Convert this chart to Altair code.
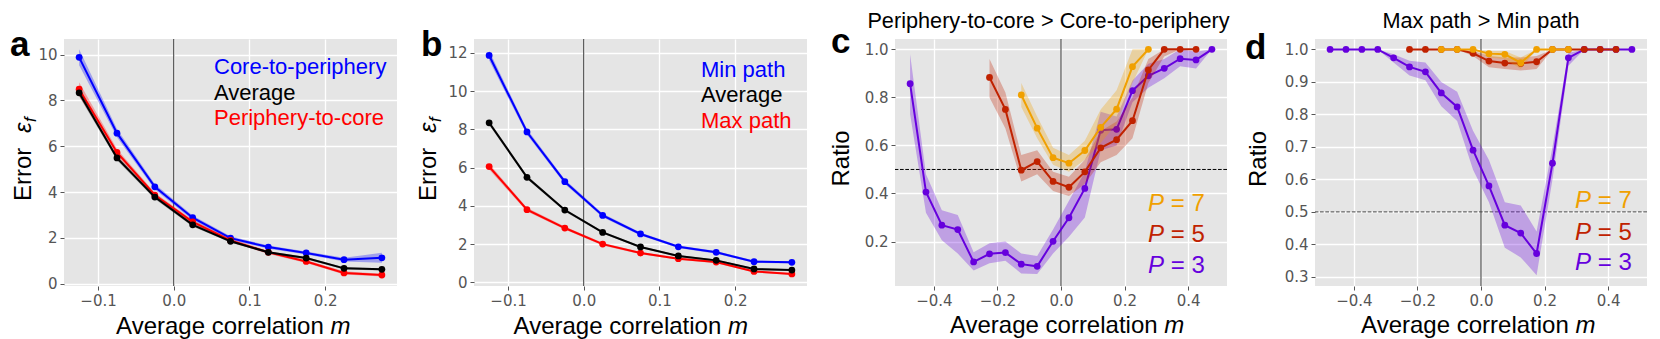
import altair as alt
import pandas as pd

# ---------------- data ----------------
M9 = [-0.125, -0.075, -0.025, 0.025, 0.075, 0.125, 0.175, 0.225, 0.275]
M14 = [-0.225, -0.175, -0.125, -0.075, -0.025, 0.025, 0.075, 0.125, 0.175,
       0.225, 0.275, 0.325, 0.375, 0.425]
M20 = [-0.475, -0.425, -0.375, -0.325, -0.275, -0.225, -0.175, -0.125, -0.075,
       -0.025, 0.025, 0.075, 0.125, 0.175, 0.225, 0.275, 0.325, 0.375, 0.425, 0.475]

# panel a
a_core = [9.88, 6.57, 4.23, 2.88, 1.99, 1.60, 1.34, 1.05, 1.13]
a_core_err = [0.35, 0.18, 0.12, 0.10, 0.08, 0.07, 0.07, 0.08, 0.22]
a_avg = [8.33, 5.49, 3.78, 2.57, 1.85, 1.37, 1.12, 0.67, 0.63]
a_avg_err = [0.15, 0.10, 0.08, 0.07, 0.05, 0.05, 0.05, 0.05, 0.05]
a_peri = [8.49, 5.73, 3.87, 2.70, 1.89, 1.37, 0.97, 0.47, 0.38]
a_peri_err = [0.30, 0.15, 0.10, 0.08, 0.07, 0.07, 0.07, 0.07, 0.06]

# panel b
b_min = [11.86, 7.86, 5.26, 3.50, 2.53, 1.86, 1.57, 1.08, 1.05]
b_min_err = [0.25, 0.15, 0.12, 0.10, 0.08, 0.07, 0.07, 0.06, 0.06]
b_avg = [8.34, 5.49, 3.78, 2.61, 1.85, 1.38, 1.15, 0.70, 0.64]
b_avg_err = [0.12, 0.09, 0.07, 0.06, 0.05, 0.05, 0.05, 0.05, 0.05]
b_max = [6.05, 3.80, 2.84, 2.00, 1.53, 1.24, 1.06, 0.57, 0.44]
b_max_err = [0.15, 0.10, 0.08, 0.07, 0.06, 0.06, 0.06, 0.05, 0.05]

# panel c  (Periphery-to-core > Core-to-periphery)
c_p3 = [0.857, 0.406, 0.268, 0.250, 0.115, 0.149, 0.154, 0.106, 0.097, 0.201,
        0.299, 0.421, 0.663, 0.667, 0.828, 0.890, 0.921, 0.961, 0.956, 1.000]
c_p3_lo = [0.73, 0.32, 0.205, 0.15, 0.08, 0.11, 0.12, 0.067, 0.065, 0.15,
           0.22, 0.30, 0.58, 0.60, 0.78, 0.84, 0.88, 0.93, 0.92, 1.00]
c_p3_hi = [0.98, 0.48, 0.33, 0.31, 0.155, 0.193, 0.20, 0.15, 0.14, 0.25,
           0.37, 0.49, 0.74, 0.72, 0.87, 0.94, 0.96, 1.00, 0.99, 1.00]
c_p5 = [0.883, 0.750, 0.497, 0.533, 0.450, 0.426, 0.490, 0.590, 0.624, 0.703,
        0.914, 1.000, 1.000, 1.000]
c_p5_lo = [0.80, 0.67, 0.45, 0.48, 0.41, 0.39, 0.44, 0.53, 0.56, 0.63,
           0.86, 0.97, 1.00, 1.00]
c_p5_hi = [0.96, 0.82, 0.56, 0.58, 0.49, 0.47, 0.54, 0.66, 0.70, 0.80,
           0.96, 1.00, 1.00, 1.00]
c_p7 = [0.810, 0.672, 0.549, 0.526, 0.579, 0.675, 0.751, 0.928, 1.000]
c_p7_lo = [0.76, 0.63, 0.52, 0.49, 0.54, 0.61, 0.69, 0.86, 1.00]
c_p7_hi = [0.86, 0.72, 0.59, 0.56, 0.62, 0.75, 0.83, 1.00, 1.00]

# panel d  (Max path > Min path)
d_p3 = [1.0, 1.0, 1.0, 1.0, 0.974, 0.946, 0.931, 0.866, 0.823, 0.690,
        0.580, 0.459, 0.435, 0.372, 0.650, 0.974, 1.0, 1.0, 1.0, 1.0]
d_p3_lo = [1.0, 1.0, 1.0, 1.0, 0.96, 0.92, 0.905, 0.825, 0.78, 0.63,
           0.53, 0.39, 0.36, 0.305, 0.60, 0.95, 1.0, 1.0, 1.0, 1.0]
d_p3_hi = [1.0, 1.0, 1.0, 1.0, 0.985, 0.965, 0.96, 0.90, 0.87, 0.75,
           0.66, 0.53, 0.52, 0.44, 0.70, 0.99, 1.0, 1.0, 1.0, 1.0]
d_p5 = [1.0, 1.0, 1.0, 1.0, 0.988, 0.964, 0.958, 0.957, 0.962, 1.0,
        1.0, 1.0, 1.0, 1.0]
d_p5_lo = [1.0, 1.0, 1.0, 1.0, 0.98, 0.945, 0.94, 0.935, 0.94, 1.0,
           1.0, 1.0, 1.0, 1.0]
d_p5_hi = [1.0, 1.0, 1.0, 1.0, 0.995, 0.98, 0.975, 0.975, 0.98, 1.0,
           1.0, 1.0, 1.0, 1.0]
d_p7 = [1.0, 1.0, 1.0, 0.987, 0.985, 0.959, 1.0, 1.0, 1.0]
d_p7_lo = [1.0, 1.0, 1.0, 0.975, 0.97, 0.94, 1.0, 1.0, 1.0]
d_p7_hi = [1.0, 1.0, 1.0, 0.995, 0.995, 0.975, 1.0, 1.0, 1.0]

legend_a = ["Core-to-periphery", "Average", "Periphery-to-core"]
legend_b = ["Min path", "Average", "Max path"]
legend_p = ["7", "5", "3"]
titles = ["Periphery-to-core > Core-to-periphery", "Max path > Min path"]
letters = ["a", "b", "c", "d"]

BLUE, BLACK, RED = "#0000ff", "#000000", "#ff0000"
PURPLE, DRED, ORANGE = "#6600dd", "#c02200", "#f0a000"

W, H = 333, 247
SANS = "Liberation Sans"
PANEL_BG = alt.ViewBackground(fill="#e5e5e5", stroke=None)
NO_BG = alt.ViewBackground(fill=None, stroke=None)
PT = 46


def txt(s, x, y, size, color="black", style="normal", weight="normal",
        align="left", baseline="alphabetic", angle=0, font=SANS):
    return alt.Chart(pd.DataFrame({"t": [s]})).mark_text(
        align=align, baseline=baseline, font=font, fontSize=size,
        fontStyle=style, fontWeight=weight, color=color, angle=angle
    ).encode(x=alt.value(x), y=alt.value(y), text="t:N")


def make_panel(series, xdom, xticks, ydom, yticks, yfmt):
    X = alt.X("m:Q", scale=alt.Scale(domain=xdom, nice=False, zero=False),
              axis=alt.Axis(values=xticks, format=".1f", title=None))
    Y = alt.Y("v:Q", scale=alt.Scale(domain=ydom, nice=False, zero=False),
              axis=alt.Axis(values=yticks, format=yfmt, title=None))
    layers = []
    layers.append(alt.Chart(pd.DataFrame({"m": [0.0]})).mark_rule(
        color="#333333", strokeWidth=1).encode(x=X))
    for m, v, lo, hi, col in series:
        df = pd.DataFrame({"m": m, "v": v, "lo": lo, "hi": hi})
        base = alt.Chart(df)
        layers.append(base.mark_area(color=col, opacity=0.3).encode(
            x=X, y=alt.Y("lo:Q", scale=alt.Scale(domain=ydom, nice=False, zero=False),
                          axis=alt.Axis(values=yticks, format=yfmt, title=None)),
            y2="hi:Q"))
        layers.append(base.mark_line(color=col, strokeWidth=2).encode(x=X, y=Y))
        layers.append(base.mark_circle(color=col, size=PT, opacity=1).encode(x=X, y=Y))
    return layers, X, Y


def err_band(v, e):
    return [a - b for a, b in zip(v, e)], [a + b for a, b in zip(v, e)]


def spacer(w):
    return alt.Chart(pd.DataFrame({"t": [""]})).mark_text().encode(
        text="t:N").properties(width=w, height=H, view=NO_BG)


# ----- panel a -----
sa = []
for v, e, c in [(a_core, a_core_err, BLUE), (a_peri, a_peri_err, RED), (a_avg, a_avg_err, BLACK)]:
    lo, hi = err_band(v, e)
    sa.append((M9, v, lo, hi, c))
la, Xa, Ya = make_panel(sa, [-0.145, 0.295], [-0.1, 0.0, 0.1, 0.2],
                        [-0.1, 10.68], [0, 2, 4, 6, 8, 10], "d")
la += [
    txt(legend_a[0], 150, 35, 22, BLUE),
    txt(legend_a[1], 150, 60.5, 22, BLACK),
    txt(legend_a[2], 150, 86, 22, RED),
    txt(letters[0], -54, 17, 35, weight="bold"),
    txt("Error", -33, 162, 24, angle=270),
    txt("ε", -33, 94, 24, style="italic", angle=270),
    txt("f", -28, 83, 17, style="italic", angle=270),
    txt("Average correlation", 166.5 + 100 - 6.7, 294.5, 24, align="right"),
    txt("m", 166.5 + 100, 294.5, 24, style="italic"),
]
pa = alt.layer(*la).properties(width=W, height=H, view=PANEL_BG)

# ----- panel b -----
sb = []
for v, e, c in [(b_min, b_min_err, BLUE), (b_max, b_max_err, RED), (b_avg, b_avg_err, BLACK)]:
    lo, hi = err_band(v, e)
    sb.append((M9, v, lo, hi, c))
lb, Xb, Yb = make_panel(sb, [-0.145, 0.295], [-0.1, 0.0, 0.1, 0.2],
                        [-0.19, 12.72], [0, 2, 4, 6, 8, 10, 12], "d")
lb += [
    txt(legend_b[0], 227, 38, 22, BLUE),
    txt(legend_b[1], 227, 63, 22, BLACK),
    txt(legend_b[2], 227, 88.5, 22, RED),
    txt(letters[1], -53, 17, 35, weight="bold"),
    txt("Error", -38, 162, 24, angle=270),
    txt("ε", -38, 94, 24, style="italic", angle=270),
    txt("f", -33, 83, 17, style="italic", angle=270),
    txt("Average correlation", 154 + 100 - 6.7, 294.5, 24, align="right"),
    txt("m", 154 + 100, 294.5, 24, style="italic"),
]
pb = alt.layer(*lb).properties(width=W, height=H, view=PANEL_BG)


# ----- panel c -----
def p_legend(x, ys):
    out = []
    for lab, y, col in zip(legend_p, ys, [ORANGE, DRED, PURPLE]):
        out.append(txt("P", x, y, 24, col, style="italic"))
        out.append(txt("= " + lab, x + 22.7, y, 24, col))
    return out


sc = [(M20, c_p3, c_p3_lo, c_p3_hi, PURPLE),
      (M14, c_p5, c_p5_lo, c_p5_hi, DRED),
      (M9, c_p7, c_p7_lo, c_p7_hi, ORANGE)]
lc, Xc, Yc = make_panel(sc, [-0.5225, 0.5225], [-0.4, -0.2, 0.0, 0.2, 0.4],
                        [0.015, 1.043], [0.2, 0.4, 0.6, 0.8, 1.0], ".1f")
lc.insert(1, alt.Chart(pd.DataFrame({"v": [0.5]})).mark_rule(
    color="#000000", strokeWidth=1, strokeDash=[3.7, 1.6]).encode(y=Yc))
lc += p_legend(253, [172, 203, 233.5])
lc += [
    txt(titles[0], 153.5, -11.3, 21.7, align="center"),
    txt(letters[2], -64, 14, 35, weight="bold"),
    txt("Ratio", -46, 119.5, 24, angle=270, align="center"),
    txt("Average correlation", 169.3 + 100 - 6.7, 294, 24, align="right"),
    txt("m", 169.3 + 100, 294, 24, style="italic"),
]
pc = alt.layer(*lc).properties(width=W - 1, height=H, view=PANEL_BG)

# ----- panel d -----
sd = [(M20, d_p3, d_p3_lo, d_p3_hi, PURPLE),
      (M14, d_p5, d_p5_lo, d_p5_hi, DRED),
      (M9, d_p7, d_p7_lo, d_p7_hi, ORANGE)]
ld, Xd, Yd = make_panel(sd, [-0.5225, 0.5225], [-0.4, -0.2, 0.0, 0.2, 0.4],
                        [0.272, 1.032], [0.3, 0.4, 0.5, 0.6, 0.7, 0.8, 0.9, 1.0], ".1f")
ld.insert(1, alt.Chart(pd.DataFrame({"v": [0.5]})).mark_rule(
    color="#444444", strokeWidth=1, strokeDash=[3.7, 1.6]).encode(y=Yd))
ld += p_legend(260, [169.3, 200.7, 231.3])
ld += [
    txt(titles[1], 166, -11.3, 21.7, align="center"),
    txt(letters[3], -70, 20, 35, weight="bold"),
    txt("Ratio", -49, 120, 24, angle=270, align="center"),
    txt("Average correlation", 160.5 + 100 - 6.7, 294, 24, align="right"),
    txt("m", 160.5 + 100, 294, 24, style="italic"),
]
pd_ = alt.layer(*ld).properties(width=W - 1, height=H, view=PANEL_BG)

chart = alt.hconcat(pa, spacer(77), pb, spacer(88), pc, spacer(88), pd_,
                    spacing=0, bounds="flush").properties(
    padding={"left": 2, "top": 2, "right": 0, "bottom": 0}
).configure_view(
    fill=None, stroke=None
).configure_axis(
    grid=True, gridColor="#ffffff", gridWidth=1.3, domain=False,
    tickColor="#555555", tickSize=4, tickWidth=1,
    labelColor="#555555", labelFont="DejaVu Sans", labelFontSize=15,
    labelPadding=3
)

chart.save("out.html", embed_options={"renderer": "svg", "actions": False})
